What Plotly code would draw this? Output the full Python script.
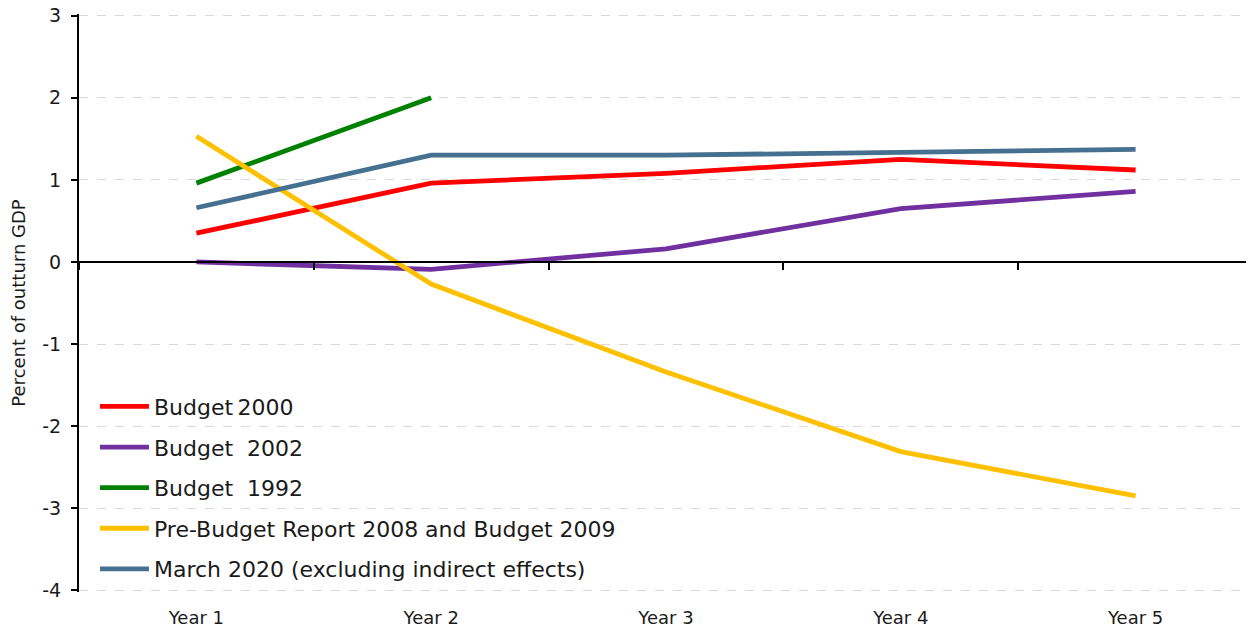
import plotly.graph_objects as go

categories = ["Year 1", "Year 2", "Year 3", "Year 4", "Year 5"]
budget_2000 = [0.35, 0.96, 1.08, 1.25, 1.12]
budget_2002 = [0.0, -0.09, 0.16, 0.65, 0.86]
budget_1992 = [0.96, 2.0, None, None, None]
pbr_2008 = [1.53, -0.27, -1.34, -2.31, -2.85]
march_2020 = [0.66, 1.30, 1.30, 1.33, 1.37]

y_tick_vals = [-4, -3, -2, -1, 0, 1, 2, 3]
y_tick_text = ["-4", "-3", "-2", "-1", "0", "1", "2", "3"]

series = [
    ("Budget\u20092000", budget_2000, "#FF0000"),
    ("Budget  2002", budget_2002, "#7030A0"),
    ("Budget  1992", budget_1992, "#008000"),
    ("Pre-Budget Report 2008 and Budget 2009", pbr_2008, "#FFC000"),
    ("March 2020 (excluding indirect effects)", march_2020, "#46708F"),
]

FONT = "DejaVu Sans"
TXT = "#1a1a1a"
fig = go.Figure()
for i, (name, vals, col) in enumerate(series):
    fig.add_trace(go.Scatter(x=categories, y=vals, name=name, mode="lines",
                             line=dict(color=col, width=4.8), legendgroup=f"g{i}",
                             connectgaps=False))
# invisible trace for the zero-line axis with ticks
fig.add_trace(go.Scatter(x=categories, y=[None]*5, xaxis="x2", showlegend=False,
                         hoverinfo="skip"))

ymin, ymax = -4.02, 3.02
zero_pos = (0 - ymin) / (ymax - ymin)

fig.update_layout(
    width=1246, height=621,
    margin=dict(l=71, r=1, t=6, b=37),
    plot_bgcolor="white", paper_bgcolor="white",
    font=dict(family=FONT, color=TXT),
    xaxis=dict(type="category", range=[-0.5, 4.5], showline=False, showgrid=False,
               zeroline=False, ticks="outside", ticklen=9, tickcolor="rgba(0,0,0,0)",
               automargin=False,
               tickfont=dict(size=18, family=FONT, color=TXT)),
    xaxis2=dict(type="category", range=[-0.5, 4.5], overlaying="x", anchor="free",
                position=zero_pos, showline=True, linecolor="black", linewidth=2,
                ticks="outside", ticklen=7, tickwidth=2, tickcolor="black",
                tickson="boundaries", showticklabels=False, showgrid=False,
                automargin=False,
                categoryorder="array", categoryarray=categories),
    yaxis=dict(range=[ymin, ymax], tickvals=y_tick_vals, ticktext=y_tick_text,
               showline=True, linecolor="black", linewidth=2,
               ticks="outside", ticklen=6, tickwidth=2, tickcolor="black",
               ticklabelstandoff=6, ticklabeloverflow="allow", automargin=False,
               showgrid=True, gridcolor="#D9D9D9", griddash="dash", gridwidth=1.3,
               zeroline=False,
               tickfont=dict(size=19, family=FONT, color=TXT),
               title=dict(text="Percent of outturn GDP", font=dict(size=18, family=FONT),
                          standoff=13)),
    legend=dict(x=0.0136, y=0.357, xanchor="left", yanchor="top",
                bgcolor="rgba(0,0,0,0)", font=dict(size=22, family=FONT, color=TXT),
                traceorder="grouped", tracegroupgap=9, itemwidth=49),
    showlegend=True,
)

fig.write_html("out.html")
